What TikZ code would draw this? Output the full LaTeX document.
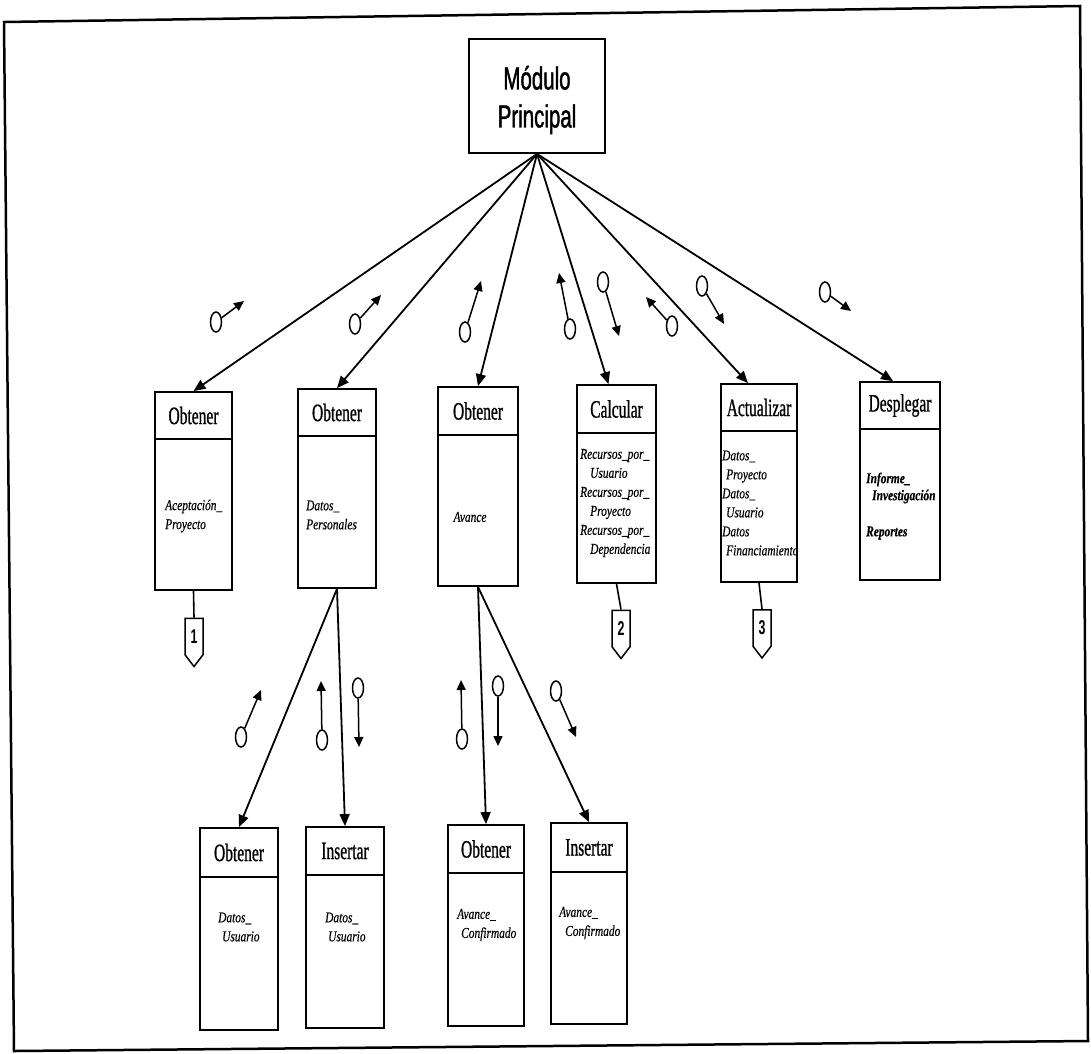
\documentclass[tikz,border=0pt]{standalone}
\usepackage{fontspec}
\setmainfont{Liberation Serif}
\newfontfamily\headfont[FakeStretch=0.62,FakeBold=0.8]{Liberation Serif}
\newfontfamily\bodyfont[FakeStretch=0.76,FakeBold=0.4]{Liberation Serif}
\newfontfamily\titlefont[FakeStretch=0.64,FakeBold=1.2]{Liberation Sans}
\newfontfamily\markfont[FakeStretch=0.62]{Liberation Sans}
\usetikzlibrary{arrows.meta,shapes.geometric,shapes.symbols,fit}

\tikzset{
  modframe/.style={draw, line width=1.8pt, inner sep=0pt},
  divider/.style={line width=1.6pt},
  headlabel/.style={inner sep=0pt, font=\headfont\fontsize{25}{25}\selectfont},
  bodytext/.style={inner sep=0pt, align=left, anchor=west,
    font=\bodyfont\itshape\fontsize{15}{19}\selectfont},
  strongbody/.style={bodytext, font=\bodyfont\bfseries\itshape\fontsize{15}{17}\selectfont},
  titletext/.style={inner sep=0pt, align=center,
    font=\titlefont\fontsize{32}{38}\selectfont},
  link/.style={line width=1.8pt, -{Triangle[length=12pt,width=10pt]}},
  plain link/.style={line width=1.6pt},
  couple/.style={ellipse, draw, line width=1.5pt, minimum width=11pt,
    minimum height=20pt, inner sep=0pt},
  flow/.style={line width=1.5pt, -{Triangle[length=10pt,width=9pt]}},
  offpage/.style={signal, signal to=south, signal pointer angle=75, draw,
    line width=1.5pt, minimum width=18pt, minimum height=41pt, inner sep=0pt,
    font=\markfont\bfseries\fontsize{20}{20}\selectfont},
}

% two-part module box: name, left, top, right, divider, bottom, header
\newcommand\modbox[7]{%
  \coordinate (#1-tl) at (#2,#3);
  \coordinate (#1-br) at (#4,#6);
  \node[modframe, fit=(#1-tl)(#1-br)] (#1) {};
  \draw[divider] (#2,#5) -- (#4,#5);
  \node[headlabel] (#1-head) at ({(#2+#4)/2},{(#3+#5)/2}) {#7};
}

\begin{document}
\begin{tikzpicture}[x=1pt, y=-1pt]
\useasboundingbox (0,0) rectangle (1091,1053);

% page frame
\draw[line width=2.5pt, line join=miter] (4,22) -- (1080,6) -- (1088,1041) -- (14,1051) -- cycle;

% main module
\node[modframe, minimum width=136pt, minimum height=114pt] (main) at (537,96) {};
\node[titletext] (main-label) at (537,100) {Módulo\\Principal};

% first level modules
\modbox{m1}{155}{392}{232}{439}{590}{Obtener}
\modbox{m2}{298}{389}{376}{436}{588}{Obtener}
\modbox{m3}{438}{387}{518}{435}{586}{Obtener}
\modbox{m4}{577}{385}{656}{433}{583}{Calcular}
\modbox{m5}{721}{384}{797}{431}{582}{Actualizar}
\modbox{m6}{860}{382}{940}{429}{580}{Desplegar}

\node[bodytext] (m1-body) at (165,516) {Aceptación\_\\Proyecto};
\node[bodytext] (m2-body) at (306,515) {Datos\_\\Personales};
\node[bodytext, anchor=center] (m3-body) at (470,517) {Avance};
\node[bodytext] (m4-body) at (580,503) {Recursos\_por\_\\\hspace*{10pt}Usuario\\Recursos\_por\_\\\hspace*{10pt}Proyecto\\Recursos\_por\_\\\hspace*{10pt}Dependencia};
\node[bodytext] (m5-body) at (722,503) {Datos\_\\\hspace*{4pt}Proyecto\\Datos\_\\\hspace*{4pt}Usuario\\Datos\\\hspace*{4pt}Financiamiento};
\node[strongbody] (m6-body) at (866,488) {Informe\_\\\hspace*{6pt}Investigación};
\node[strongbody] (m6-body2) at (866,533) {Reportes};

% second level modules
\modbox{s1}{200}{828}{278}{877}{1030}{Obtener}
\modbox{s2}{306}{827}{384}{875}{1028}{Insertar}
\modbox{s3}{448}{825}{524}{873}{1026}{Obtener}
\modbox{s4}{551}{823}{627}{872}{1024}{Insertar}

\node[bodytext] (s1-body) at (218,927) {Datos\_\\\hspace*{4pt}Usuario};
\node[bodytext] (s2-body) at (325,927) {Datos\_\\\hspace*{3pt}Usuario};
\node[bodytext] (s3-body) at (457,925) {Avance\_\\\hspace*{4pt}Confirmado};
\node[bodytext] (s4-body) at (559,923) {Avance\_\\\hspace*{6pt}Confirmado};

% calls from the main module
\draw[link] (main.south) -- (m1.north);
\draw[link] (main.south) -- (m2.north);
\draw[link] (main.south) -- (m3.north);
\draw[link] (main.south) -- ([xshift=-8pt]m4.north);
\draw[link] (main.south) -- ([xshift=-11pt]m5.north);
\draw[link] (main.south) -- ([xshift=-7pt]m6.north);

% calls to the second level
\draw[link] (m2.south) -- (s1.north);
\draw[link] (m2.south) -- (s2.north);
\draw[link] (m3.south) -- (s3.north);
\draw[link] (m3.south) -- (s4.north);

% off-page connectors
\node[offpage] (p1) at (194,636.5) {1};
\node[offpage] (p2) at (621,628.5) {2};
\node[offpage] (p3) at (762,628) {3};
\draw[plain link] (m1.south) -- (p1.north);
\draw[plain link] (m4.south) -- (p2.north);
\draw[plain link] (m5.south) -- (p3.north);

% data couples, first level
\node[couple] (c1) at (216,322) {}; \coordinate (c1t) at (244,301);
\node[couple] (c2) at (355,324) {}; \coordinate (c2t) at (381,295);
\node[couple] (c3) at (465,332) {}; \coordinate (c3t) at (481,281);
\node[couple] (c4) at (570,329) {}; \coordinate (c4t) at (559,273);
\node[couple] (c5) at (603,282) {}; \coordinate (c5t) at (619,336);
\node[couple] (c6) at (672,326) {}; \coordinate (c6t) at (646,297);
\node[couple] (c7) at (702,286) {}; \coordinate (c7t) at (724,324);
\node[couple] (c8) at (825,292) {}; \coordinate (c8t) at (851,311);
\foreach \c in {c1,c2,c3,c4,c5,c6,c7,c8} \draw[flow] (\c) -- (\c t);

% data couples, second level
\node[couple] (d1) at (241,737) {}; \coordinate (d1t) at (261,690);
\node[couple] (d2) at (322,740) {}; \coordinate (d2t) at (321,681);
\node[couple] (d3) at (358,688) {}; \coordinate (d3t) at (359,747);
\node[couple] (d4) at (462,739) {}; \coordinate (d4t) at (461,680);
\node[couple] (d5) at (498,686) {}; \coordinate (d5t) at (498,746);
\node[couple] (d6) at (556,691) {}; \coordinate (d6t) at (576,737);
\foreach \c in {d1,d2,d3,d4,d5,d6} \draw[flow] (\c) -- (\c t);
\end{tikzpicture}
\end{document}
